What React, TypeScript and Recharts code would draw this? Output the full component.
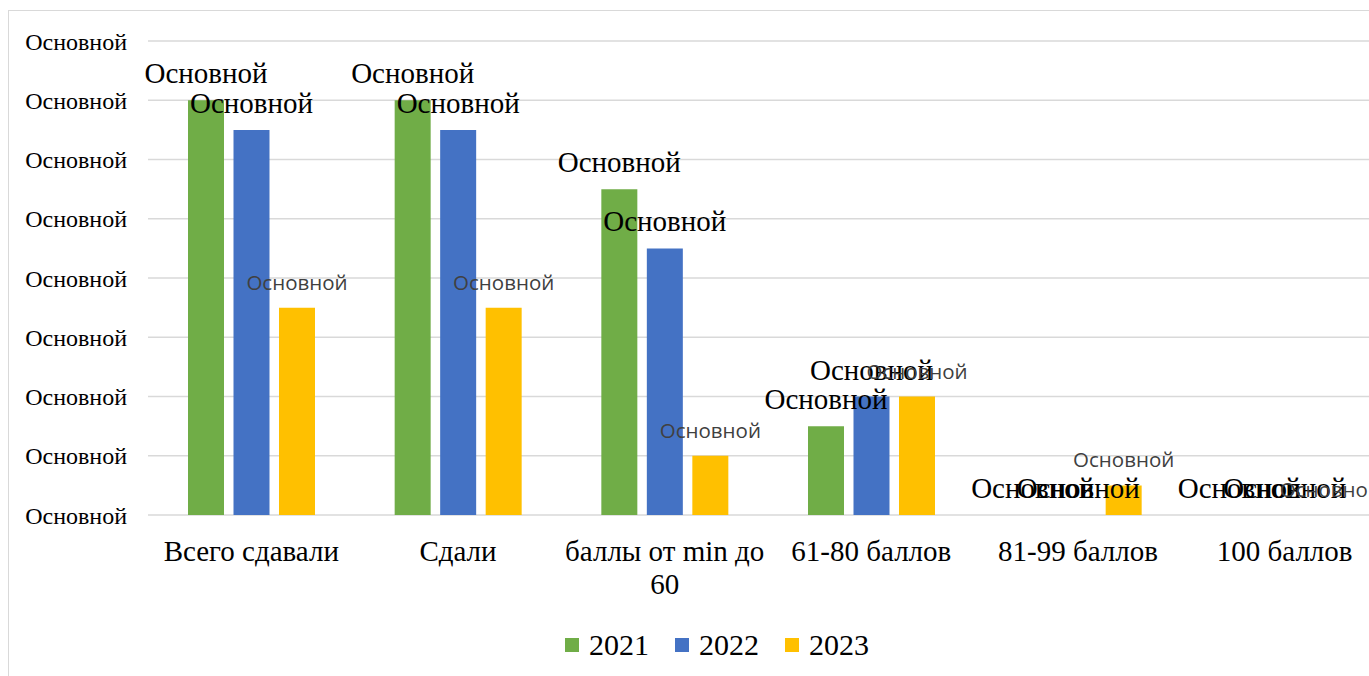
import { BarChart, Bar, XAxis, YAxis, CartesianGrid, Legend } from 'recharts';

// categories on the x axis
const categories = ['Всего сдавали', 'Сдали', 'баллы от min до 60', '61-80 баллов', '81-99 баллов', '100 баллов'];
// how each category label is broken into lines under the axis
const categoryLines = [['Всего сдавали'], ['Сдали'], ['баллы от min до', '60'], ['61-80 баллов'], ['81-99 баллов'], ['100 баллов']];

// series values (one unit per gridline)
const values2021 = [7, 7, 5.5, 1.5, 0, 0];
const values2022 = [6.5, 6.5, 4.5, 2, 0, 0];
const values2023 = [3.5, 3.5, 1, 2, 0.5, 0];

// y ticks and their (placeholder) labels
const yTicks = [0, 1, 2, 3, 4, 5, 6, 7, 8];
const yTickLabels = ['Основной', 'Основной', 'Основной', 'Основной', 'Основной', 'Основной', 'Основной', 'Основной', 'Основной'];
const dataLabel = 'Основной';

const SERIF = '"Liberation Serif", "Times New Roman", serif';
const SANS = '"Open Sans", "Noto Sans", sans-serif';

const data = categories.map((name, i) => ({
  name,
  y2021: values2021[i],
  y2022: values2022[i],
  y2023: values2023[i],
}));

const CategoryTick = (props: any) => {
  const { x, y, payload } = props;
  const lines = categoryLines[categories.indexOf(payload.value)] || [payload.value];
  return (
    <text x={x} y={y} textAnchor="middle" fontSize={29} fontFamily={SERIF} fill="#000">
      {lines.map((line: string, i: number) => (
        <tspan key={i} x={x} dy={i === 0 ? '0.71em' : '1.15em'}>
          {line}
        </tspan>
      ))}
    </text>
  );
};

const LegendContent = (props: any) => {
  const { payload = [] } = props;
  return (
    <div style={{ display: 'flex', justifyContent: 'center', alignItems: 'center', gap: 26, height: 40 }}>
      {payload.map((item: any) => (
        <div key={item.value} style={{ display: 'flex', alignItems: 'center' }}>
          <span style={{ width: 14, height: 14, background: item.color, marginRight: 10, display: 'inline-block' }} />
          <span style={{ fontFamily: SERIF, fontSize: 30, color: '#000', lineHeight: '40px' }}>{item.value}</span>
        </div>
      ))}
    </div>
  );
};

// data label drawn above each bar, including the zero-height ones
const makeLabel = (font: { fontSize: number; fontFamily: string; fill: string }, offset: number) => (props: any) => {
  const { x, y, width, index } = props;
  return (
    <text
      key={`lbl-${index}`}
      x={x + width / 2}
      y={y - offset}
      textAnchor="middle"
      fontSize={font.fontSize}
      fontFamily={font.fontFamily}
      fill={font.fill}
    >
      {dataLabel}
    </text>
  );
};

export default function App() {
  const serifLabel = { fontSize: 29, fontFamily: SERIF, fill: '#000' };
  const sansLabel = { fontSize: 20.5, fontFamily: SANS, fill: '#404040' };
  return (
    <div
      style={{
        position: 'fixed',
        left: 8,
        top: 10,
        width: 1361,
        height: 666,
        overflow: 'hidden',
        borderLeft: '1px solid #d9d9d9',
        borderTop: '1px solid #d9d9d9',
        boxSizing: 'border-box',
        background: '#fff',
      }}
    >
      <BarChart
        width={1416}
        height={665}
        data={data}
        margin={{ top: 30, right: 37, left: 0, bottom: 11 }}
        barSize={36}
        barGap={9.5}
      >
        <CartesianGrid vertical={false} stroke="#d9d9d9" strokeWidth={1.5} />
        <XAxis
          dataKey="name"
          axisLine={false}
          tickLine={false}
          tickSize={6}
          tickMargin={19}
          height={110}
          interval={0}
          tick={<CategoryTick />}
        />
        <YAxis
          domain={[0, 8]}
          ticks={yTicks}
          width={139}
          axisLine={false}
          tickLine={false}
          tickSize={6}
          tickMargin={15}
          tickFormatter={(v: number) => yTickLabels[yTicks.indexOf(v)]}
          tick={{ fontSize: 24, fontFamily: SERIF, fill: '#000' }}
        />
        <Legend
          verticalAlign="bottom"
          content={<LegendContent />}
          wrapperStyle={{ left: 0, width: 1416 }}
        />
        <Bar dataKey="y2021" name="2021" fill="#70AD47" minPointSize={0.01} isAnimationActive={false} label={makeLabel(serifLabel, 17)} />
        <Bar dataKey="y2022" name="2022" fill="#4472C4" minPointSize={0.01} isAnimationActive={false} label={makeLabel(serifLabel, 17)} />
        <Bar dataKey="y2023" name="2023" fill="#FFC000" minPointSize={0.01} isAnimationActive={false} label={makeLabel(sansLabel, 18)} />
      </BarChart>
    </div>
  );
}
